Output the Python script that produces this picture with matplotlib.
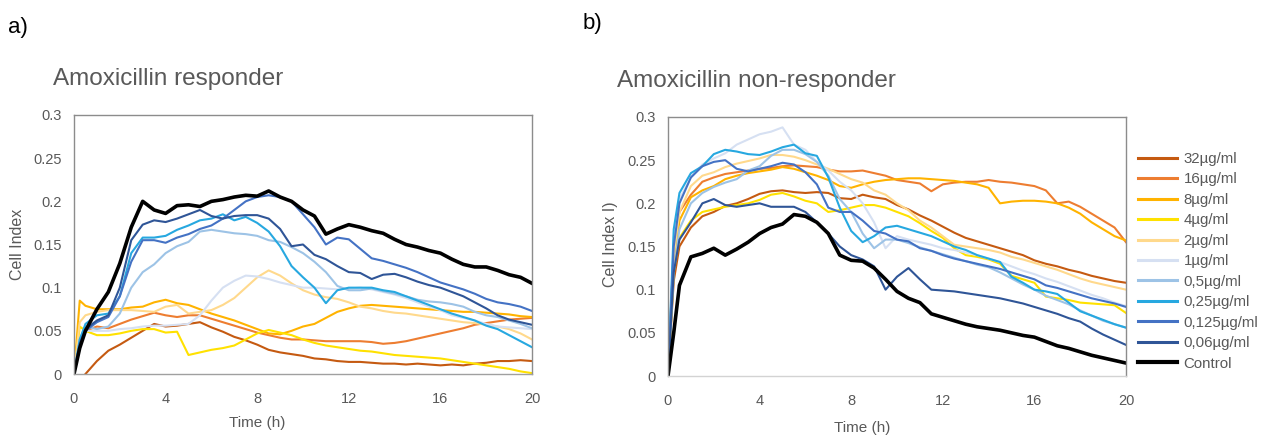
import numpy as np
import matplotlib

matplotlib.use("Agg")
import matplotlib.pyplot as plt

plt.rcParams["font.family"] = ["Liberation Sans", "DejaVu Sans"]

# time grid (h), shared by every series
T = [0, 0.25, 0.5, 1, 1.5, 2, 2.5, 3, 3.5, 4,
     4.5, 5, 5.5, 6, 6.5, 7, 7.5, 8, 8.5, 9,
     9.5, 10, 10.5, 11, 11.5, 12, 12.5, 13, 13.5, 14,
     14.5, 15, 15.5, 16, 16.5, 17, 17.5, 18, 18.5, 19,
     19.5, 20]

LABELS = ["32µg/ml", "16µg/ml", "8µg/ml", "4µg/ml", "2µg/ml", "1µg/ml",
          "0,5µg/ml", "0,25µg/ml", "0,125µg/ml", "0,06µg/ml", "Control"]
COLORS = ["#C55A11", "#ED7D31", "#FFB300", "#FFE100", "#FFD98C", "#D6E0F2",
          "#9DC3E6", "#27A8E0", "#4472C4", "#2F5597", "#000000"]

# ---- a) responder ----
resp_32 = [np.nan, np.nan, 0, 0.015, 0.027, 0.034, 0.042, 0.05, 0.058, 0.055,
           0.056, 0.058, 0.06, 0.054, 0.049, 0.043, 0.039, 0.034, 0.028, 0.025,
           0.023, 0.021, 0.018, 0.017, 0.015, 0.014, 0.014, 0.013, 0.012, 0.012,
           0.011, 0.012, 0.011, 0.01, 0.011, 0.01, 0.012, 0.013, 0.015, 0.015,
           0.016, 0.015]
resp_16 = [0, 0.04, 0.05, 0.055, 0.053, 0.058, 0.063, 0.067, 0.071, 0.068,
           0.066, 0.068, 0.068, 0.064, 0.06, 0.056, 0.052, 0.048, 0.045, 0.042,
           0.04, 0.04, 0.039, 0.038, 0.038, 0.038, 0.038, 0.037, 0.035, 0.036,
           0.038, 0.041, 0.044, 0.047, 0.05, 0.053, 0.057, 0.059, 0.061, 0.063,
           0.064, 0.065]
resp_8 = [0, 0.085, 0.079, 0.075, 0.075, 0.075, 0.077, 0.078, 0.083, 0.086,
          0.082, 0.08, 0.075, 0.07, 0.066, 0.062, 0.057, 0.052, 0.047, 0.046,
          0.05, 0.055, 0.058, 0.065, 0.072, 0.076, 0.079, 0.08, 0.079, 0.078,
          0.077, 0.076, 0.075, 0.074, 0.073, 0.072, 0.072, 0.071, 0.07, 0.069,
          0.067, 0.066]
resp_4 = [0, 0.055, 0.05, 0.045, 0.045, 0.047, 0.05, 0.052, 0.052, 0.048,
          0.049, 0.022, 0.025, 0.028, 0.03, 0.033, 0.04, 0.047, 0.051, 0.048,
          0.045, 0.04, 0.036, 0.033, 0.031, 0.029, 0.027, 0.026, 0.024, 0.022,
          0.021, 0.02, 0.019, 0.018, 0.016, 0.014, 0.012, 0.01, 0.008, 0.006,
          0.003, 0.001]
resp_2 = [0, 0.06, 0.068, 0.072, 0.074, 0.074, 0.074, 0.073, 0.072, 0.078,
          0.08, 0.07, 0.072, 0.074, 0.08, 0.088, 0.1, 0.112, 0.12, 0.114,
          0.105, 0.097, 0.092, 0.089, 0.087, 0.083, 0.078, 0.076, 0.073, 0.071,
          0.07, 0.068, 0.066, 0.064, 0.062, 0.06, 0.059, 0.057, 0.055, 0.052,
          0.047, 0.04]
resp_1 = [0, 0.04, 0.05, 0.05, 0.05, 0.052, 0.053, 0.055, 0.056, 0.056,
          0.057, 0.058, 0.068, 0.085, 0.1, 0.108, 0.114, 0.113, 0.11, 0.106,
          0.103, 0.1, 0.1, 0.099, 0.098, 0.099, 0.1, 0.098, 0.095, 0.092,
          0.088, 0.083, 0.078, 0.074, 0.068, 0.065, 0.062, 0.058, 0.055, 0.054,
          0.053, 0.052]
resp_05 = [0, 0.04, 0.055, 0.052, 0.055, 0.07, 0.1, 0.118, 0.127, 0.14,
           0.148, 0.153, 0.165, 0.167, 0.165, 0.163, 0.162, 0.16, 0.155, 0.153,
           0.147, 0.14, 0.13, 0.118, 0.102, 0.097, 0.097, 0.099, 0.096, 0.093,
           0.09, 0.086, 0.084, 0.083, 0.081, 0.078, 0.072, 0.068, 0.066, 0.062,
           0.058, 0.053]
resp_025 = [0, 0.04, 0.058, 0.068, 0.07, 0.09, 0.14, 0.158, 0.158, 0.16,
            0.167, 0.172, 0.178, 0.18, 0.185, 0.178, 0.182, 0.175, 0.165, 0.148,
            0.125, 0.112, 0.1, 0.082, 0.097, 0.1, 0.1, 0.1, 0.097, 0.095,
            0.09, 0.085, 0.08, 0.075, 0.07, 0.066, 0.062, 0.056, 0.052, 0.045,
            0.038, 0.031]
resp_0125 = [0, 0.03, 0.05, 0.06, 0.066, 0.09, 0.13, 0.155, 0.155, 0.152,
             0.158, 0.162, 0.168, 0.172, 0.18, 0.19, 0.2, 0.205, 0.207, 0.205,
             0.2, 0.185, 0.17, 0.15, 0.158, 0.156, 0.145, 0.134, 0.131, 0.127,
             0.123, 0.118, 0.112, 0.106, 0.102, 0.098, 0.093, 0.087, 0.083, 0.081,
             0.078, 0.073]
resp_006 = [0, 0.035, 0.052, 0.062, 0.068, 0.1, 0.155, 0.173, 0.178, 0.176,
            0.18, 0.185, 0.19, 0.183, 0.18, 0.183, 0.184, 0.184, 0.18, 0.168,
            0.148, 0.15, 0.138, 0.133, 0.125, 0.118, 0.117, 0.11, 0.115, 0.116,
            0.112, 0.107, 0.103, 0.1, 0.095, 0.09, 0.083, 0.076, 0.068, 0.063,
            0.06, 0.057]
resp_ctrl = [0, 0.03, 0.05, 0.075, 0.095, 0.128, 0.17, 0.2, 0.19, 0.186,
             0.195, 0.196, 0.194, 0.2, 0.202, 0.205, 0.207, 0.206, 0.212, 0.205,
             0.2, 0.19, 0.183, 0.162, 0.168, 0.173, 0.17, 0.166, 0.163, 0.156,
             0.15, 0.147, 0.143, 0.14, 0.133, 0.127, 0.124, 0.124, 0.12, 0.115,
             0.112, 0.105]

# ---- b) non-responder ----
non_32 = [0, 0.11, 0.15, 0.172, 0.185, 0.19, 0.197, 0.2, 0.205, 0.211,
          0.214, 0.215, 0.213, 0.212, 0.213, 0.212, 0.206, 0.205, 0.21, 0.207,
          0.205, 0.198, 0.193, 0.186, 0.18, 0.173, 0.166, 0.16, 0.156, 0.152,
          0.148, 0.144, 0.14, 0.134, 0.13, 0.127, 0.123, 0.12, 0.116, 0.113,
          0.11, 0.108]
non_16 = [0, 0.15, 0.19, 0.21, 0.225, 0.23, 0.234, 0.236, 0.238, 0.24,
          0.241, 0.243, 0.244, 0.243, 0.242, 0.239, 0.237, 0.237, 0.238, 0.235,
          0.232, 0.227, 0.225, 0.223, 0.214, 0.222, 0.224, 0.225, 0.225, 0.227,
          0.225, 0.224, 0.222, 0.22, 0.215, 0.2, 0.202, 0.196, 0.188, 0.18,
          0.172, 0.155]
non_8 = [0, 0.13, 0.18, 0.207, 0.215, 0.22, 0.228, 0.232, 0.235, 0.237,
         0.239, 0.242, 0.24, 0.236, 0.232, 0.227, 0.22, 0.218, 0.222, 0.225,
         0.227, 0.228, 0.229, 0.229, 0.228, 0.227, 0.226, 0.224, 0.222, 0.218,
         0.2, 0.202, 0.203, 0.203, 0.202, 0.2, 0.195, 0.188, 0.178, 0.17,
         0.162, 0.157]
non_4 = [0, 0.12, 0.16, 0.18, 0.19, 0.193, 0.196, 0.198, 0.2, 0.204,
         0.21, 0.212, 0.208, 0.203, 0.2, 0.19, 0.192, 0.195, 0.198, 0.198,
         0.195, 0.19, 0.185, 0.177, 0.168, 0.16, 0.148, 0.14, 0.138, 0.135,
         0.13, 0.116, 0.112, 0.108, 0.092, 0.09, 0.088, 0.085, 0.084, 0.083,
         0.082, 0.073]
non_2 = [0, 0.14, 0.19, 0.22, 0.232, 0.236, 0.242, 0.246, 0.249, 0.252,
         0.256, 0.256, 0.254, 0.25, 0.245, 0.24, 0.234, 0.228, 0.224, 0.215,
         0.21, 0.2, 0.192, 0.18, 0.172, 0.162, 0.152, 0.15, 0.148, 0.146,
         0.143, 0.138, 0.135, 0.131, 0.127, 0.123, 0.118, 0.113, 0.109, 0.106,
         0.103, 0.1]
non_1 = [0, 0.16, 0.205, 0.23, 0.245, 0.252, 0.258, 0.268, 0.274, 0.28,
         0.283, 0.288, 0.268, 0.262, 0.248, 0.238, 0.225, 0.215, 0.2, 0.178,
         0.148, 0.162, 0.158, 0.155, 0.152, 0.148, 0.146, 0.143, 0.14, 0.136,
         0.132, 0.127, 0.122, 0.118, 0.113, 0.109, 0.104, 0.099, 0.094, 0.09,
         0.085, 0.081]
non_05 = [0, 0.12, 0.17, 0.2, 0.212, 0.219, 0.224, 0.228, 0.238, 0.243,
          0.255, 0.262, 0.262, 0.257, 0.248, 0.232, 0.205, 0.19, 0.165, 0.148,
          0.158, 0.158, 0.154, 0.149, 0.145, 0.141, 0.137, 0.133, 0.129, 0.126,
          0.12, 0.113, 0.106, 0.1, 0.093, 0.088, 0.083, 0.076, 0.07, 0.064,
          0.06, 0.056]
non_025 = [0, 0.17, 0.212, 0.235, 0.243, 0.257, 0.262, 0.26, 0.257, 0.256,
           0.26, 0.265, 0.268, 0.258, 0.255, 0.23, 0.195, 0.168, 0.155, 0.162,
           0.172, 0.174, 0.17, 0.166, 0.162, 0.156, 0.15, 0.146, 0.14, 0.136,
           0.132, 0.115, 0.108, 0.1, 0.098, 0.095, 0.085, 0.075, 0.07, 0.065,
           0.06, 0.056]
non_0125 = [0, 0.15, 0.2, 0.23, 0.243, 0.248, 0.25, 0.24, 0.237, 0.24,
            0.243, 0.247, 0.245, 0.236, 0.222, 0.195, 0.19, 0.19, 0.18, 0.168,
            0.165, 0.158, 0.156, 0.148, 0.145, 0.14, 0.136, 0.133, 0.13, 0.127,
            0.124, 0.12, 0.116, 0.112, 0.105, 0.102, 0.098, 0.094, 0.09, 0.087,
            0.084, 0.08]
non_006 = [0, 0.12, 0.158, 0.178, 0.2, 0.205, 0.198, 0.196, 0.198, 0.2,
           0.196, 0.196, 0.196, 0.19, 0.178, 0.165, 0.15, 0.14, 0.135, 0.127,
           0.1, 0.115, 0.125, 0.112, 0.1, 0.099, 0.098, 0.096, 0.094, 0.092,
           0.09, 0.087, 0.084, 0.08, 0.076, 0.072, 0.067, 0.063, 0.055, 0.048,
           0.042, 0.036]
non_ctrl = [0, 0.05, 0.105, 0.138, 0.142, 0.148, 0.14, 0.147, 0.155, 0.165,
            0.172, 0.176, 0.187, 0.185, 0.178, 0.165, 0.14, 0.134, 0.133, 0.125,
            0.112, 0.098, 0.09, 0.085, 0.072, 0.068, 0.064, 0.06, 0.057, 0.055,
            0.053, 0.05, 0.047, 0.045, 0.04, 0.035, 0.032, 0.028, 0.024, 0.021,
            0.018, 0.015]

RESP = [resp_32, resp_16, resp_8, resp_4, resp_2, resp_1, resp_05, resp_025,
        resp_0125, resp_006, resp_ctrl]
NONRESP = [non_32, non_16, non_8, non_4, non_2, non_1, non_05, non_025,
           non_0125, non_006, non_ctrl]

XTICKS = [0, 4, 8, 12, 16, 20]
YTICKS = [0, 0.05, 0.1, 0.15, 0.2, 0.25, 0.3]
TXT = "#595959"

W, H = 1266, 437
fig = plt.figure(figsize=(W / 100, H / 100), dpi=100)


def px_axes(x0, x1, ytop, ybot):
    return fig.add_axes([x0 / W, 1 - ybot / H, (x1 - x0) / W, (ybot - ytop) / H])


def draw(ax, series, bottom_col):
    for vals, col, lab in zip(series, COLORS, LABELS):
        lw = 2.6 if lab == "Control" else 1.5
        ax.plot(T, vals, color=col, lw=lw, label=lab, solid_joinstyle="round")
    ax.set_xlim(0, 20)
    ax.set_ylim(0, 0.3)
    ax.set_xticks(XTICKS)
    ax.set_yticks(YTICKS)
    ax.set_yticklabels(["0", "0.05", "0.1", "0.15", "0.2", "0.25", "0.3"])
    ax.tick_params(length=0, labelsize=10.5, labelcolor=TXT)
    ax.tick_params(axis="y", pad=9)
    ax.tick_params(axis="x", pad=13)
    for s in ax.spines.values():
        s.set_color("#8C8C8C")
        s.set_linewidth(1.0)
    ax.spines["bottom"].set_color(bottom_col)


ax1 = px_axes(74, 532, 115, 374)
draw(ax1, RESP, "#A0A0A0")
ax2 = px_axes(668, 1126, 117, 376)
draw(ax2, NONRESP, "#D3D3D3")

# panel letters, titles, axis labels
fig.text(8 / W, 1 - 28 / H, "a)", fontsize=16, color="black", va="center")
fig.text(583 / W, 1 - 24 / H, "b)", fontsize=16, color="black", va="center")
fig.text(53 / W, 1 - 79 / H, "Amoxicillin responder", fontsize=17.5, color=TXT, va="center")
fig.text(617 / W, 1 - 81 / H, "Amoxicillin non-responder", fontsize=17.5, color=TXT, va="center")
fig.text(257 / W, 1 - 423 / H, "Time (h)", fontsize=11, color=TXT, ha="center", va="center")
fig.text(862 / W, 1 - 428 / H, "Time (h)", fontsize=11, color=TXT, ha="center", va="center")
fig.text(17 / W, 1 - 244 / H, "Cell Index", fontsize=11.5, color=TXT, rotation=90,
         ha="center", va="center")
fig.text(611 / W, 1 - 244 / H, "Cell Index I)", fontsize=11.5, color=TXT, rotation=90,
         ha="center", va="center")

handles, labels = ax2.get_legend_handles_labels()
leg = fig.legend(handles, labels, loc="upper left", bbox_to_anchor=(1132 / W, 1 - 146 / H),
                 frameon=False, fontsize=10.8, handlelength=2.6, labelspacing=0.43,
                 handletextpad=0.45, borderaxespad=0)
for t in leg.get_texts():
    t.set_color(TXT)
for h in leg.get_lines():
    h.set_linewidth(3.0 if h.get_label() == "Control" else 2.2)

fig.savefig("out.png", dpi=100)
